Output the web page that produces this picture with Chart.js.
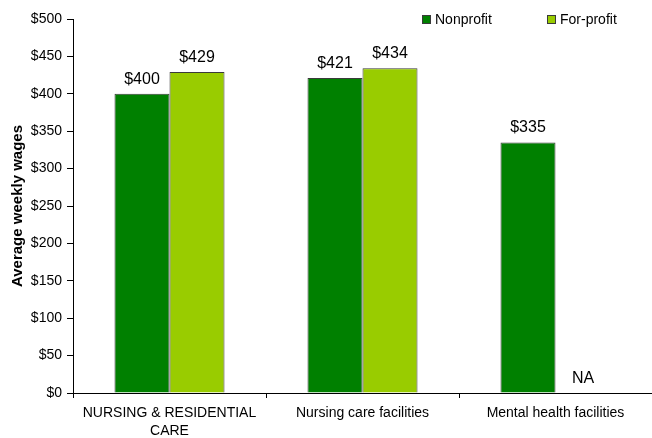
<!DOCTYPE html>
<html><head><meta charset="utf-8">
<script src="https://cdn.jsdelivr.net/npm/chart.js@4"></script>
<style>html,body{margin:0;padding:0;background:#fff;overflow:hidden}#wrap{width:652px;height:438px;position:relative}</style>
</head><body><div id="wrap"><canvas id="c"></canvas></div>
<script>
const categories = [["NURSING & RESIDENTIAL", "CARE"], "Nursing care facilities", "Mental health facilities"];
const seriesNames = ["Nonprofit", "For-profit"];
const nonprofit = [400, 421, 335];
const forProfit = [429, 434, null];
const yTickValues = [0, 50, 100, 150, 200, 250, 300, 350, 400, 450, 500];
const missingLabel = "NA";
const yTitle = "Average weekly wages";

const FONT = "'Liberation Sans', Arial, sans-serif";
const colors = ["#008000", "#99CC00"];
const edge = "#3a3a3a";

const labelPlugin = {
  id: 'valueLabels',
  afterDatasetsDraw(chart) {
    const ctx = chart.ctx;
    const yScale = chart.scales.y;
    ctx.save();
    ctx.fillStyle = '#000';
    ctx.font = `16px ${FONT}`;
    ctx.textAlign = 'center';
    ctx.textBaseline = 'alphabetic';
    chart.data.datasets.forEach((ds, di) => {
      const meta = chart.getDatasetMeta(di);
      meta.data.forEach((el, i) => {
        const v = ds.data[i];
        if (v === null || v === undefined) {
          ctx.fillText(missingLabel, el.x, yScale.getPixelForValue(0) - 10);
        } else {
          ctx.fillText('$' + v, el.x, el.y - 10);
        }
      });
    });
    ctx.restore();
  }
};

const legendPlugin = {
  id: 'customLegend',
  afterDraw(chart) {
    const ctx = chart.ctx;
    const starts = [422, 547];
    ctx.save();
    ctx.font = `14px ${FONT}`;
    ctx.textBaseline = 'middle';
    ctx.textAlign = 'left';
    chart.data.datasets.forEach((ds, i) => {
      const x = starts[i];
      ctx.fillStyle = ds.backgroundColor;
      ctx.fillRect(x + 0.5, 15.5, 8, 8);
      ctx.strokeStyle = edge;
      ctx.lineWidth = 1;
      ctx.strokeRect(x + 0.5, 15.5, 8, 8);
      ctx.fillStyle = '#000';
      ctx.fillText(ds.label, x + 13, 20);
    });
    ctx.restore();
  }
};

new Chart(document.getElementById('c'), {
  type: 'bar',
  data: {
    labels: categories,
    datasets: [
      { label: seriesNames[0], data: nonprofit, backgroundColor: colors[0], borderColor: edge, borderWidth: 1, borderSkipped: 'bottom' },
      { label: seriesNames[1], data: forProfit, backgroundColor: colors[1], borderColor: edge, borderWidth: 1, borderSkipped: 'bottom' }
    ]
  },
  options: {
    responsive: true,
    maintainAspectRatio: false,
    animation: false,
    devicePixelRatio: 1,
    layout: { padding: { top: 19, right: 0, bottom: 0, left: 0 } },
    datasets: { bar: { categoryPercentage: 0.57, barPercentage: 1.0 } },
    plugins: { legend: { display: false }, tooltip: { enabled: false } },
    scales: {
      x: {
        afterFit(s) { s.height = 45; },
        grid: { drawOnChartArea: false, drawTicks: true, tickLength: 5, color: '#000', offset: true },
        border: { display: true, color: '#000', width: 1 },
        ticks: { color: '#000', font: { family: FONT, size: 14, lineHeight: 1.3 }, padding: 6, maxRotation: 0, autoSkip: false }
      },
      y: {
        min: 0, max: 500,
        afterFit(s) { s.width = 73; },
        afterBuildTicks(s) { s.ticks = yTickValues.map(v => ({ value: v })); },
        grid: { drawOnChartArea: false, drawTicks: true, tickLength: 6, color: '#000' },
        border: { display: true, color: '#000', width: 1 },
        ticks: { color: '#000', font: { family: FONT, size: 14 }, padding: 5, callback: v => '$' + v },
        title: { display: true, text: yTitle, color: '#000', font: { family: FONT, size: 15, weight: 'bold' }, padding: { top: 9, bottom: 0 } }
      }
    }
  },
  plugins: [labelPlugin, legendPlugin]
});
</script>
</body></html>
